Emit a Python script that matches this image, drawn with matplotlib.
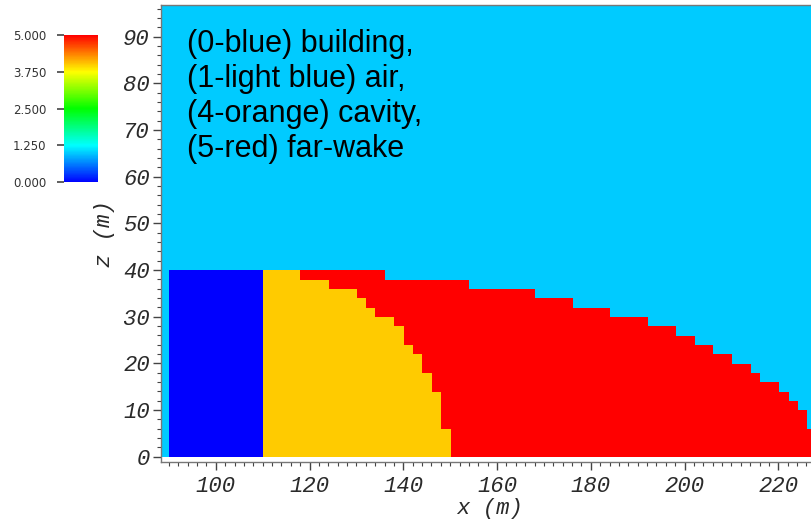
import numpy as np
import matplotlib
matplotlib.use('Agg')
import matplotlib.pyplot as plt
from matplotlib.colors import ListedColormap, hsv_to_rgb
from matplotlib.ticker import MultipleLocator

# cell codes
BUILDING, AIR, CAVITY, WAKE = 0, 1, 4, 5

# mesh (2 m cells)
cell = 2.0
x_lo, x_hi = 88.0, 232.0
z_lo, z_hi = 0.0, 98.0

# building block
building_x = [90.0, 110.0]
building_top = 40.0

# per 2 m row (bottom z of each row): downstream end of cavity and of far-wake
row_z = [0, 2, 4, 6, 8, 10, 12, 14, 16, 18, 20, 22, 24, 26, 28, 30, 32, 34, 36, 38]
cavity_end = [150, 150, 150, 148, 148, 148, 148, 146, 146, 144,
              144, 142, 140, 140, 138, 134, 132, 130, 124, 118]
wake_end = [232, 232, 232, 226, 226, 224, 222, 220, 216, 214,
            210, 206, 202, 198, 192, 184, 176, 168, 154, 136]

cbar_ticks = [0.0, 1.25, 2.5, 3.75, 5.0]
note = "(0-blue) building,\n(1-light blue) air,\n(4-orange) cavity,\n(5-red) far-wake"

# build the cell field
xc = np.arange(x_lo, x_hi, cell) + cell / 2
zc = np.arange(z_lo, z_hi, cell) + cell / 2
field = np.full((len(zc), len(xc)), AIR, dtype=float)
for z0, c_end, w_end in zip(row_z, cavity_end, wake_end):
    r = int((z0 - z_lo) / cell)
    field[r, (xc > building_x[1]) & (xc < c_end)] = CAVITY
    field[r, (xc > c_end) & (xc < w_end)] = WAKE
field[np.ix_(zc < building_top, (xc > building_x[0]) & (xc < building_x[1]))] = BUILDING

# ParaView-like HSV rainbow (blue -> red)
hue = np.linspace(240 / 360, 0, 256)
rainbow = ListedColormap(hsv_to_rgb(np.stack([hue, np.ones(256), np.ones(256)], axis=1)))

W, H = 811, 519
fig = plt.figure(figsize=(W / 100, H / 100), dpi=100)
ax = fig.add_axes([161 / W, (H - 462) / H, (W - 161) / W + 0.01, (462 - 5) / H])

im = ax.imshow(field, origin='lower', cmap=rainbow, vmin=0, vmax=5,
               extent=(x_lo, x_hi, z_lo, z_hi), aspect='auto', interpolation='nearest')
ax.set_xlim(88.3, 228.7)
ax.set_ylim(-1.15, 96.8)

tick_font = dict(family='Liberation Mono', style='italic', size=16)
ax.xaxis.set_major_locator(MultipleLocator(20))
ax.xaxis.set_minor_locator(MultipleLocator(2))
ax.yaxis.set_major_locator(MultipleLocator(10))
ax.yaxis.set_minor_locator(MultipleLocator(2))
ax.tick_params(which='major', direction='out', length=6, width=1, color='#444444',
               labelcolor='#2a2a2a')
ax.tick_params(which='minor', direction='out', length=3, width=0.8, color='#444444')
ax.tick_params(axis='x', which='major', pad=4)
ax.tick_params(axis='y', which='major', pad=2)
for lab in ax.get_xticklabels() + ax.get_yticklabels():
    lab.set(**tick_font)

ax.set_xlabel("x (m)", color='#2a2a2a', **tick_font)
ax.set_ylabel("z (m)", color='#2a2a2a', **tick_font)
ax.xaxis.set_label_coords(0.5, -0.078)
ax.yaxis.set_label_coords(-0.07, 0.5)

for s in ['left', 'bottom', 'top']:
    ax.spines[s].set_color('#777777')
    ax.spines[s].set_linewidth(1.0)
ax.spines['right'].set_visible(False)

ax.text(93.8, 91.6, note, ha='left', va='top', fontsize=22,
        family='Liberation Sans', color='black', linespacing=1.22)

# colour legend
cax = fig.add_axes([64.3 / W, (H - 182.3) / H, 34 / W, 147.3 / H])
cb = fig.colorbar(im, cax=cax, ticks=cbar_ticks, format='%.3f')
cb.outline.set_visible(False)
cax.yaxis.set_ticks_position('left')
cax.tick_params(length=5, width=1.2, color='#444444', pad=8, labelsize=8.5,
                labelcolor='#333333')

fig.savefig("out.png", dpi=100)
